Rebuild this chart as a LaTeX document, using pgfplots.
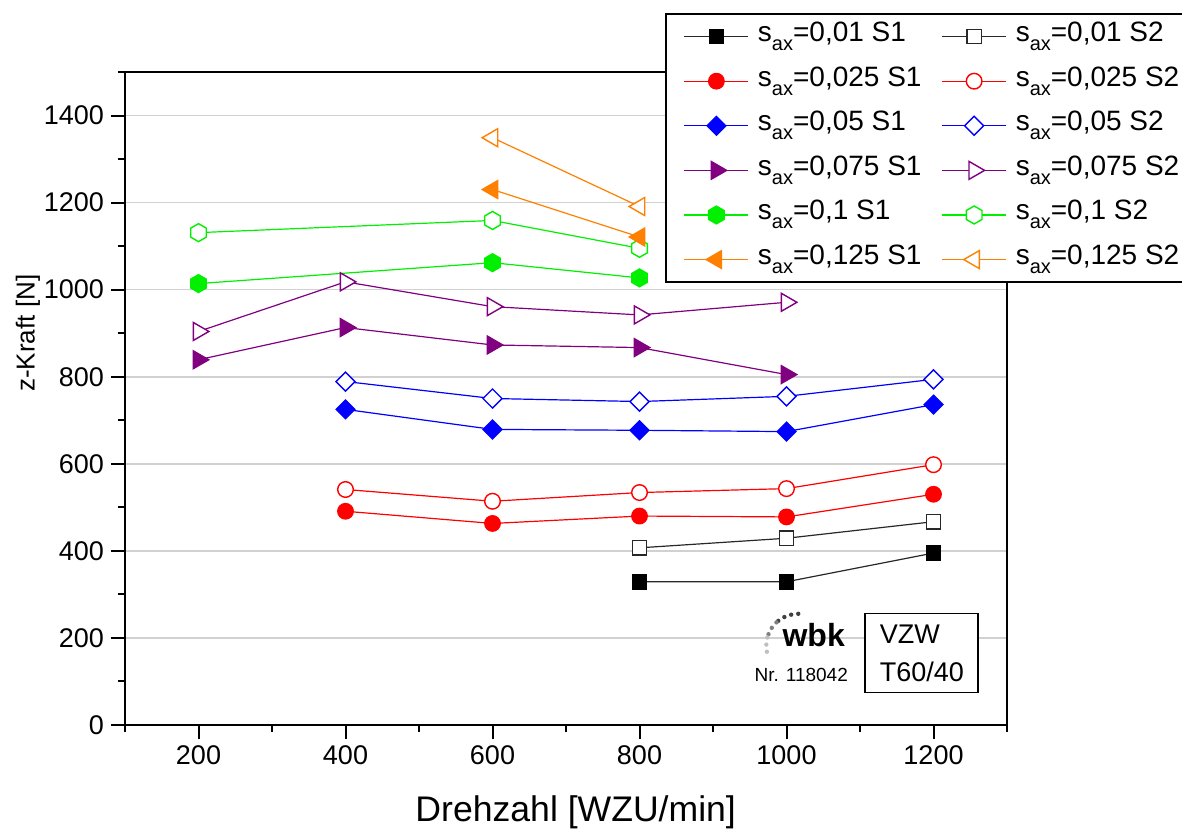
\documentclass[border=0pt]{standalone}
\usepackage{pgfplots}
\pgfplotsset{compat=1.18}
\usepackage{fontspec}
\setmainfont{Liberation Sans}

% hexagon and rhomb plot marks
\pgfdeclareplotmark{hexagon*}{%
  \pgfpathmoveto{\pgfqpointpolar{90}{\pgfplotmarksize}}%
  \pgfpathlineto{\pgfqpointpolar{150}{\pgfplotmarksize}}%
  \pgfpathlineto{\pgfqpointpolar{210}{\pgfplotmarksize}}%
  \pgfpathlineto{\pgfqpointpolar{270}{\pgfplotmarksize}}%
  \pgfpathlineto{\pgfqpointpolar{330}{\pgfplotmarksize}}%
  \pgfpathlineto{\pgfqpointpolar{30}{\pgfplotmarksize}}%
  \pgfpathclose\pgfusepathqfillstroke}
\pgfdeclareplotmark{rhomb*}{%
  \pgfpathmoveto{\pgfqpoint{0pt}{\pgfplotmarksize}}%
  \pgfpathlineto{\pgfqpoint{\pgfplotmarksize}{0pt}}%
  \pgfpathlineto{\pgfqpoint{0pt}{-\pgfplotmarksize}}%
  \pgfpathlineto{\pgfqpoint{-\pgfplotmarksize}{0pt}}%
  \pgfpathclose\pgfusepathqfillstroke}

\definecolor{cBlack}{RGB}{40,40,40}
\definecolor{cRed}{RGB}{255,0,0}
\definecolor{cBlue}{RGB}{0,0,255}
\definecolor{cPurple}{RGB}{128,0,128}
\definecolor{cGreen}{RGB}{0,240,0}
\definecolor{cOrange}{RGB}{255,128,0}

\newcommand{\sax}{s\raisebox{-4.5pt}{\fontsize{10}{10}\selectfont ax}}

\begin{document}
\begin{tikzpicture}
\begin{axis}[
  at={(0pt,0pt)}, anchor=south west,
  scale only axis,
  width=441pt, height=326.5pt,
  xmin=100, xmax=1300,
  ymin=0, ymax=1500,
  xtick={200,400,...,1200},
  minor xtick={100,300,...,1300},
  ytick={0,200,...,1400},
  minor ytick={100,300,...,1500},
  xtick pos=bottom, ytick pos=left,
  tick align=outside,
  major tick length=7pt,
  minor tick length=3.5pt,
  every tick/.style={black, line width=1pt},
  axis line style={black, line width=1.2pt},
  ymajorgrids,
  major grid style={draw=black!18, line width=0.8pt},
  /pgf/number format/assume math mode=true,
  /pgf/number format/set thousands separator={},
  ticklabel style={font=\fontsize{13.5}{16}\selectfont},
  xlabel={Drehzahl [WZU/min]},
  ylabel={z-Kraft [N]},
  xlabel style={at={(axis description cs:0.511,-0.133)}, anchor=center, font=\fontsize{17.8}{20}\selectfont},
  ylabel style={at={(axis description cs:-0.11,0.6)}, anchor=center, font=\fontsize{13}{15}\selectfont},
  ln/.style={line width=0.6pt,
    legend image code/.code={%
      \draw (0pt,0pt) -- (32pt,0pt);
      \draw plot coordinates {(16pt,0pt)};}},
  legend columns=2,
  legend style={
    at={(axis description cs:0.612,1.0904)}, anchor=north west,
    draw=black, fill=white, line width=1pt,
    font=\fontsize{14}{16}\selectfont,
    inner xsep=9pt, inner ysep=0.8pt,
    nodes={text height=10pt, text depth=5pt, inner ysep=3pt, inner xsep=4.5pt, anchor=west},
    row sep=1.3pt,
    /tikz/every even column/.append style={column sep=5.5pt},
  },
]
% s_ax = 0.01
\addplot[ln, cBlack, mark=square*, mark size=3.6pt, mark options={solid, fill=black, draw=black, line width=0.6pt}]
  coordinates {(800,329) (1000,329) (1200,395)};
\addlegendentry{\sax=0,01 S1}
\addplot[ln, cBlack, mark=square*, mark size=3.6pt, mark options={solid, fill=white, draw=cBlack, line width=0.7pt}]
  coordinates {(800,407) (1000,429) (1200,467)};
\addlegendentry{\sax=0,01 S2}
% s_ax = 0.025
\addplot[ln, cRed, mark=*, mark size=3.9pt, mark options={solid, fill=cRed, line width=0.6pt}]
  coordinates {(400,491) (600,463) (800,480) (1000,478) (1200,530)};
\addlegendentry{\sax=0,025 S1}
\addplot[ln, cRed, mark=*, mark size=3.9pt, mark options={solid, fill=white, line width=0.7pt}]
  coordinates {(400,541) (600,514) (800,534) (1000,543) (1200,598)};
\addlegendentry{\sax=0,025 S2}
% s_ax = 0.05
\addplot[ln, cBlue, mark=rhomb*, mark size=4.75pt, mark options={solid, fill=cBlue, line width=0.6pt}]
  coordinates {(400,725) (600,679) (800,677) (1000,674) (1200,736)};
\addlegendentry{\sax=0,05 S1}
\addplot[ln, cBlue, mark=rhomb*, mark size=4.75pt, mark options={solid, fill=white, line width=0.7pt}]
  coordinates {(400,789) (600,750) (800,743) (1000,755) (1200,794)};
\addlegendentry{\sax=0,05 S2}
% s_ax = 0.075
\addplot[ln, cPurple, mark=triangle*, mark size=5.2pt, mark options={solid, rotate=-90, fill=cPurple, line width=0.6pt}]
  coordinates {(200,839) (400,913) (600,873) (800,867) (1000,805)};
\addlegendentry{\sax=0,075 S1}
\addplot[ln, cPurple, mark=triangle*, mark size=5.2pt, mark options={solid, rotate=-90, fill=white, line width=0.7pt}]
  coordinates {(200,904) (400,1018) (600,961) (800,942) (1000,971)};
\addlegendentry{\sax=0,075 S2}
% s_ax = 0.1
\addplot[ln, cGreen, mark=hexagon*, mark size=4.5pt, mark options={solid, fill=cGreen, line width=0.6pt}]
  coordinates {(200,1014) (600,1062) (800,1027)};
\addlegendentry{\sax=0,1 S1}
\addplot[ln, cGreen, mark=hexagon*, mark size=4.5pt, mark options={solid, fill=white, line width=0.7pt}]
  coordinates {(200,1131) (600,1159) (800,1095)};
\addlegendentry{\sax=0,1 S2}
% s_ax = 0.125
\addplot[ln, cOrange, mark=triangle*, mark size=5.2pt, mark options={solid, rotate=90, fill=cOrange, line width=0.6pt}]
  coordinates {(600,1230) (800,1121)};
\addlegendentry{\sax=0,125 S1}
\addplot[ln, cOrange, mark=triangle*, mark size=5.2pt, mark options={solid, rotate=90, fill=white, line width=0.7pt}]
  coordinates {(600,1349) (800,1191)};
\addlegendentry{\sax=0,125 S2}

% institute logo and test label
\draw[black!75, line width=2.2pt, line cap=round, dash pattern=on 0pt off 3.6pt]
  (axis cs:1016,182) ++(90:16pt) arc[start angle=90, end angle=130, radius=16pt];
\draw[black!50, line width=2.2pt, line cap=round, dash pattern=on 0pt off 3.6pt]
  (axis cs:1016,182) ++(133:16pt) arc[start angle=133, end angle=162, radius=16pt];
\draw[black!25, line width=2.2pt, line cap=round, dash pattern=on 0pt off 3.6pt]
  (axis cs:1016,182) ++(165:16pt) arc[start angle=165, end angle=195, radius=16pt];
\node[font=\fontsize{16}{18}\bfseries\selectfont, inner sep=0pt] at (axis cs:1037,206) {wbk};
\node[font=\fontsize{9.5}{11}\selectfont, inner sep=0pt] at (axis cs:1020,115) {Nr. 118042};
\node[draw=black, line width=0.9pt, fill=white, anchor=north west, minimum width=56.5pt, minimum height=39.5pt,
      align=left, font=\fontsize{13.5}{19}\selectfont, inner sep=0pt]
  at (axis cs:1106,258) {VZW\\T60/40};
\end{axis}
\pgfresetboundingbox
\path[use as bounding box] (-62.5pt,-53.5pt) rectangle (528.5pt,362.5pt);
\end{tikzpicture}
\end{document}
